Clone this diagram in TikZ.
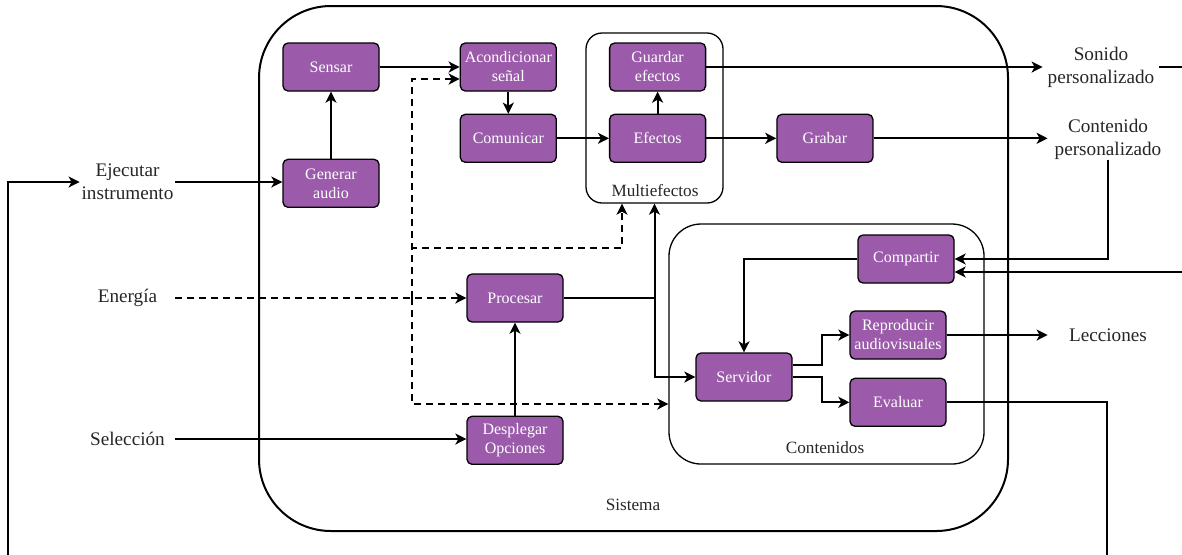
\documentclass[tikz,border=0pt]{standalone}
\usepackage{fontspec}
\setmainfont{Liberation Serif}
\usetikzlibrary{positioning,arrows.meta}
\definecolor{boxfill}{RGB}{155,91,170}

\begin{document}
\begin{tikzpicture}[x=0.5pt,y=-0.5pt,
>={Stealth[length=5.5pt,width=5.5pt,inset=1.5pt]},
funcnode/.style={rectangle, rounded corners=2.5pt, draw=black, fill=boxfill, line width=0.65pt,
minimum width=48pt, minimum height=24pt, inner sep=1pt, align=center, text=white,
font=\fontsize{8}{9.5}\selectfont},
groupnode/.style={rectangle, draw=black, line width=0.65pt},
grouplabel/.style={text=black!85, font=\fontsize{8.6}{10}\selectfont},
extnode/.style={inner sep=0pt, minimum width=47.5pt, align=center, text=black!85,
font=\fontsize{9.6}{11.5}\selectfont},
flow/.style={line width=1pt},
energyflow/.style={line width=1pt, dash pattern=on 3.5pt off 2.5pt}
]
\useasboundingbox (0,0) rectangle (1182,554);

%Groups
\node[groupnode, rounded corners=36pt, line width=1pt, minimum width=374.5pt, minimum height=262.5pt] (sistema) at (633.5,268.5) {};
\node[groupnode, rounded corners=8pt, minimum width=68.5pt, minimum height=85pt] (multi) at (654.5,118) {};
\node[groupnode, rounded corners=16pt, minimum width=157.5pt, minimum height=120pt] (cont) at (826.5,344) {};
\node[grouplabel] (sistemalbl) at (633,505) {Sistema};
\node[grouplabel] (multilbl) at (655,191) {Multiefectos};
\node[grouplabel] (contlbl) at (825,448) {Contenidos};

%Nodes
\node[funcnode]  (sensar)                     at (331,67) {Sensar};
\node[funcnode]  (gen)     [below=33.5pt of sensar] {Generar\\audio};
\node[funcnode]  (acond)   [right=40pt of sensar] {Acondicionar\\señal};
\node[funcnode]  (comm)    [below=11pt of acond] {Comunicar};
\node[funcnode]  (guard)   [right=26pt of acond] {Guardar\\efectos};
\node[funcnode]  (eff)     [below=11pt of guard] {Efectos};
\node[funcnode]  (grab)    [right=35pt of eff] {Grabar};
\node[funcnode]  (proc)                       at (515,298) {Procesar};
\node[funcnode]  (displ)   [below=46.5pt of proc] {Desplegar\\Opciones};
\node[funcnode]  (comp)                       at (906,259) {Compartir};
\node[funcnode]  (serv)                       at (744,377) {Servidor};
\node[funcnode]  (repro)                      at (898,335) {Reproducir\\audiovisuales};
\node[funcnode]  (eval)    [below=9pt of repro] {Evaluar};

\node[extnode]   (exec)                       at (127.5,182) {Ejecutar\\instrumento};
\node[extnode]   (energy)                     at (127.5,298) {Energía};
\node[extnode]   (selec)                      at (127.5,439) {Selección};
\node[extnode, minimum width=58pt] (sonido)   at (1101,67) {Sonido\\personalizado};
\node[extnode, minimum width=60pt] (contenido) at (1108,139) {Contenido\\personalizado};
\node[extnode, minimum width=60pt] (lecc)     at (1108,335) {Lecciones};

\coordinate (split)     at (412,298);
\coordinate (dashup)    at (622,248);
\coordinate (procsplit) at (proc.east -| multi.south);
\coordinate (loopr)     at (1107,580);
\coordinate (loopl)     at (8,580);
\coordinate (loops)     at (1200,67);

%Lines
\draw[flow,->] (exec.east) -- (exec.east -| gen.west);
\draw[flow,->] (gen.north) -- (sensar.south);
\draw[flow,->] (sensar.east) -- (acond.west);
\draw[flow,->] (acond.south) -- (comm.north);
\draw[flow,->] (comm.east) -- (eff.west);
\draw[flow,->] (eff.north) -- (guard.south);
\draw[flow,->] (eff.east) -- (grab.west);
\draw[flow,->] (guard.east) -- (sonido.west);
\draw[flow,->] (grab.east) -- (grab.east -| contenido.west);
\draw[flow,->] (selec.east) -- (selec.east -| displ.west);
\draw[flow,->] (displ.north) -- (proc.south);
\draw[flow,->] (proc.east) -| (multi.south);
\draw[flow,->] (procsplit) |- (serv.west);
\draw[flow,->] (comp.west) -| (serv.north);
\draw[flow,->] ([yshift=6pt]serv.east) -- ++(14.5pt,0) |- (repro.west);
\draw[flow,->] (serv.east) -- ++(14.5pt,0) |- (eval.west);
\draw[flow,->] (repro.east) -- (lecc.west);
\draw[flow,->] (contenido.south) |- (comp.east);
\draw[flow,->] (sonido.east) -- (loops) |- ([yshift=-6.5pt]comp.east);
\draw[flow,->] (eval.east) -| (loopr) -- (loopl) |- (exec.west);

\draw[energyflow,->] (energy.east) -- (proc.west);
\draw[energyflow,->] (split) |- ([yshift=-6pt]acond.west);
\draw[energyflow,->] (split) |- (dashup) -- (dashup |- multi.south);
\draw[energyflow,->] (split) |- ([yshift=-30pt]cont.west);
\end{tikzpicture}
\end{document}
